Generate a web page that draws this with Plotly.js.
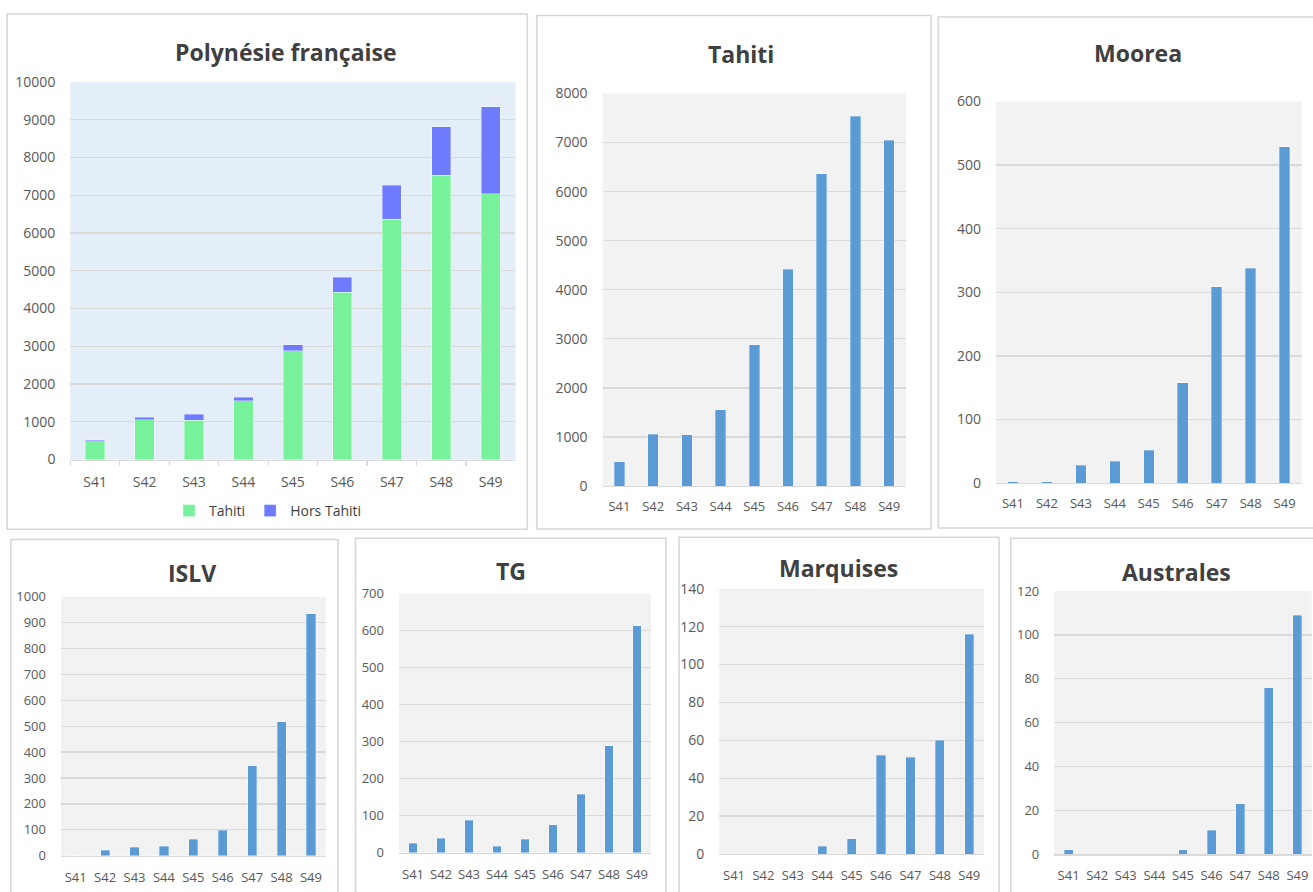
<!DOCTYPE html>
<html><head><meta charset="utf-8">
<script src="https://cdn.plot.ly/plotly-3.0.1.min.js"></script>
<style>html,body{margin:0;padding:0;background:#fff;}#chart{width:1313px;height:892px;}</style>
</head><body><div id="chart"></div>
<script>
// ---- data ----
const weeks = ['S41','S42','S43','S44','S45','S46','S47','S48','S49'];
const tahiti = [495, 1052, 1046, 1555, 2875, 4423, 6363, 7532, 7044];
const horsTahiti = [30, 65, 150, 95, 170, 405, 900, 1280, 2295];
const moorea = [2, 2, 28, 34, 52, 158, 309, 338, 529];
const islv = [0, 22, 32, 36, 63, 98, 348, 517, 934];
const tg = [25, 39, 88, 18, 36, 75, 158, 289, 612];
const marquises = [0, 0, 0, 4, 8, 52, 51, 60, 116];
const australes = [2, 0, 0, 0, 2, 11, 23, 76, 109];

// ---- layout helpers ----
const W = 1313, H = 892;
const fx = p => p / W, fy = p => 1 - p / H;

const panels = [
  {name:'Polynésie française', box:[7,14,527.3,529.3], plot:[70.4,81.9,515.4,459.5], ymax:10000, dtick:1000, ytf:14, xtf:14, xs:9, t:[285.7,52.4]},
  {name:'Tahiti', box:[537,15.5,931,529], plot:[602.6,93.5,906,486], ymax:8000, dtick:1000, ytf:14, xtf:13, xs:8, t:[740.6,53.9], data:tahiti},
  {name:'Moorea', box:[938.3,17,1330,528], plot:[996,101.4,1301.6,483.1], ymax:600, dtick:100, ytf:14, xtf:13, xs:8, t:[1137.8,53.4], data:moorea},
  {name:'ISLV', box:[10.7,539.5,338,910], plot:[61,596.7,325.7,855.7], ymax:1000, dtick:100, ytf:13, xtf:13, xs:9, t:[191.7,573.3], data:islv},
  {name:'TG', box:[355.5,538.3,666,910], plot:[399,593.3,651,852.7], ymax:700, dtick:100, ytf:13, xtf:13, xs:9, t:[511,571], data:tg},
  {name:'Marquises', box:[679,537.3,999,910], plot:[719.3,588.7,984,854], ymax:140, dtick:20, ytf:14, xtf:13, xs:9, t:[838.3,568.3], data:marquises},
  {name:'Australes', box:[1010.7,538.3,1330,910], plot:[1054.3,591,1311.7,854.3], ymax:120, dtick:20, ytf:13, xtf:13, xs:9, t:[1176.7,571.7], data:australes}
];

const FONT = '"Open Sans", "Liberation Sans", sans-serif';
const TICKC = '#595959';
const GRID = '#D9D9D9';

const traces = [];
const layout = {
  width: W, height: H,
  margin: {l:0, r:0, t:0, b:0},
  paper_bgcolor: '#FFFFFF',
  plot_bgcolor: '#F2F2F2',
  barmode: 'stack',
  showlegend: true,
  font: {family: FONT, color: TICKC},
  legend: {orientation:'h', traceorder:'normal', x: fx(268), xanchor:'center', y: fy(511), yanchor:'middle',
           font:{size:14, color:'#404040', family:FONT}, bgcolor:'rgba(0,0,0,0)', itemwidth:30, tracegroupgap:0},
  shapes: [],
  annotations: []
};

panels.forEach((p, i) => {
  const n = i === 0 ? '' : String(i + 1);
  const xa = 'x' + n, ya = 'y' + n;
  layout['xaxis' + n] = {
    domain: [fx(p.plot[0]), fx(p.plot[2])],
    anchor: ya, type: 'category', fixedrange: true,
    showgrid: false, zeroline: false,
    showline: true, linecolor: GRID, linewidth: 1.3,
    ticks: i === 0 ? 'outside' : '', tickson: 'boundaries', ticklen: 5, tickcolor: GRID, tickwidth: 1.3,
    tickfont: {size: p.xtf, color: TICKC, family: FONT},
    ticklabelstandoff: p.xs
  };
  layout['yaxis' + n] = {
    domain: [fy(p.plot[3]), fy(p.plot[1])],
    anchor: xa, range: [0, p.ymax], dtick: p.dtick, tick0: 0, fixedrange: true,
    tickformat: 'd',
    showgrid: true, gridcolor: GRID, gridwidth: 1.3,
    zeroline: false, showline: false, ticks: '',
    tickfont: {size: p.ytf, color: TICKC, family: FONT},
    ticklabelstandoff: 14
  };
  if (i === 0) {
    traces.push({type:'bar', name:'Tahiti', x: weeks, y: tahiti, xaxis: xa, yaxis: ya, width: 0.39,
      marker:{color:'#78F29A', line:{width:0.8, color:'rgba(255,255,255,0.45)'}}, hoverinfo:'skip'});
    traces.push({type:'bar', name:'Hors Tahiti', x: weeks, y: horsTahiti, xaxis: xa, yaxis: ya, width: 0.39,
      marker:{color:'#6F7BFF', line:{width:0.8, color:'rgba(255,255,255,0.45)'}}, hoverinfo:'skip'});
    layout.shapes.push({type:'rect', xref:'x domain', yref:'y domain', x0:0, x1:1, y0:0, y1:1,
      fillcolor:'#E4EEF8', line:{width:0}, layer:'below'});
  } else {
    traces.push({type:'bar', name:p.name, x: weeks, y: p.data, xaxis: xa, yaxis: ya, width: 0.31,
      showlegend:false, marker:{color:'#5B9BD5', line:{width:0.8, color:'rgba(255,255,255,0.4)'}}, hoverinfo:'skip'});
  }
  layout.shapes.push({type:'rect', xref:'paper', yref:'paper',
    x0: fx(p.box[0]), x1: fx(p.box[2]), y0: fy(p.box[3]), y1: fy(p.box[1]),
    line:{color:'#D6D6D6', width:1.6}, fillcolor:'rgba(0,0,0,0)', layer:'below'});
  layout.annotations.push({xref:'paper', yref:'paper', x: fx(p.t[0]), y: fy(p.t[1]),
    xanchor:'center', yanchor:'middle', showarrow:false, text:'<b>' + p.name + '</b>',
    font:{size:23, color:'#404040', family:FONT}});
});

Plotly.newPlot('chart', traces, layout, {staticPlot:true, displayModeBar:false});
</script>
</body></html>
